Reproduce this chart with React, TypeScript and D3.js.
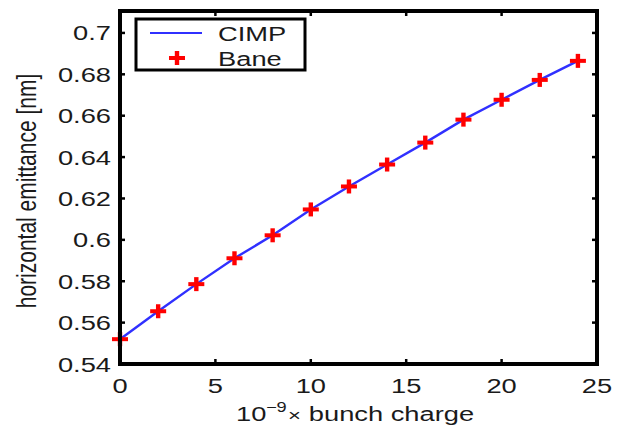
import React from "react";
import * as d3 from "d3";

const charge = [0, 2, 4, 6, 8, 10, 12, 14, 16, 18, 20, 22, 24];
const cimp = [0.552, 0.5655, 0.5786, 0.5911, 0.6022, 0.6147, 0.6258, 0.6364, 0.647, 0.6581, 0.6677, 0.6773, 0.6865];
const bane = [0.552, 0.5655, 0.5786, 0.5911, 0.6022, 0.6147, 0.6258, 0.6364, 0.647, 0.6581, 0.6677, 0.6773, 0.6865];
const xTicks = [0, 5, 10, 15, 20, 25];
const yTicks = [0.54, 0.56, 0.58, 0.6, 0.62, 0.64, 0.66, 0.68, 0.7];
const yTickLabels = ["0.54", "0.56", "0.58", "0.6", "0.62", "0.64", "0.66", "0.68", "0.7"];
const legendNames = ["CIMP", "Bane"];

const W = 619, H = 429;
const L = 120, R = 597, T = 11, B = 364;
const SX = 1.3;
const FONT = "'Liberation Sans', Arial, Helvetica, sans-serif";
const FS = 21;

export default function App() {
  const x = d3.scaleLinear().domain([0, 25]).range([L, R]);
  const y = d3.scaleLinear().domain([0.54, 0.7106]).range([B, T]);
  const line = d3.line<number>().x((_, i) => x(charge[i])).y((d) => y(d));
  const tl = 4;

  const hText = (tx: number, ty: number, s: string, anchor: string, key?: any) => (
    <text key={key} transform={`translate(${tx},${ty}) scale(${SX},1)`} textAnchor={anchor}
      fontFamily={FONT} fontSize={FS} fill="#1a1a1a">{s}</text>
  );

  return (
    <svg width={W} height={H} style={{ position: "absolute", left: 0, top: 0, background: "#fff" }}>
      <rect x={0} y={0} width={W} height={H} fill="#fff" />
      {/* data line */}
      <path d={line(cimp) || ""} fill="none" stroke="#3030ff" strokeWidth={2.4} />
      {/* markers */}
      {bane.map((v, i) => (
        <g key={i} transform={`translate(${x(charge[i])},${y(v)})`}>
          <line x1={-8} x2={8} y1={0} y2={0} stroke="#ff0000" strokeWidth={4} />
          <line x1={0} x2={0} y1={-7} y2={7} stroke="#ff0000" strokeWidth={4.4} />
        </g>
      ))}
      {/* ticks */}
      {xTicks.map((t) => (
        <g key={"xt" + t}>
          <line x1={x(t)} x2={x(t)} y1={B} y2={B - tl - 1} stroke="#000" strokeWidth={2.5} />
          <line x1={x(t)} x2={x(t)} y1={T} y2={T + tl + 1} stroke="#000" strokeWidth={2.5} />
          {hText(x(t), 393, String(t), "middle")}
        </g>
      ))}
      {yTicks.map((t, i) => (
        <g key={"yt" + t}>
          <line x1={L} x2={L + tl + 1} y1={y(t)} y2={y(t)} stroke="#000" strokeWidth={2.5} />
          <line x1={R} x2={R - tl - 1} y1={y(t)} y2={y(t)} stroke="#000" strokeWidth={2.5} />
          {hText(111, y(t) + 7.5, yTickLabels[i], "end")}
        </g>
      ))}
      {/* axes box */}
      <rect x={L} y={T} width={R - L} height={B - T} fill="none" stroke="#000" strokeWidth={4} />
      {/* x label */}
      <g transform={`translate(236,421) scale(${SX},1)`} fontFamily={FONT} fill="#1a1a1a">
        <text x={0} y={0} fontSize={FS}>10</text>
        <text x={23} y={-9} fontSize={14}>−9</text>
        <text x={40} y={0} fontSize={17}>×</text>
        <text x={56} y={0} fontSize={FS}>bunch charge</text>
      </g>
      {/* y label */}
      <text transform={`translate(36,191) rotate(-90) scale(1,${SX})`} textAnchor="middle"
        fontFamily={FONT} fontSize={FS} fill="#1a1a1a">horizontal emittance [nm]</text>
      {/* legend */}
      <rect x={136} y={19} width={169} height={51} fill="#fff" stroke="#000" strokeWidth={3} />
      <line x1={150} x2={202} y1={33} y2={33} stroke="#3030ff" strokeWidth={2.2} />
      <g transform="translate(177,58)">
        <line x1={-8} x2={8} y1={0} y2={0} stroke="#ff0000" strokeWidth={4} />
        <line x1={0} x2={0} y1={-7} y2={7} stroke="#ff0000" strokeWidth={4.4} />
      </g>
      {hText(218, 40.5, legendNames[0], "start")}
      {hText(218, 65.5, legendNames[1], "start")}
    </svg>
  );
}
